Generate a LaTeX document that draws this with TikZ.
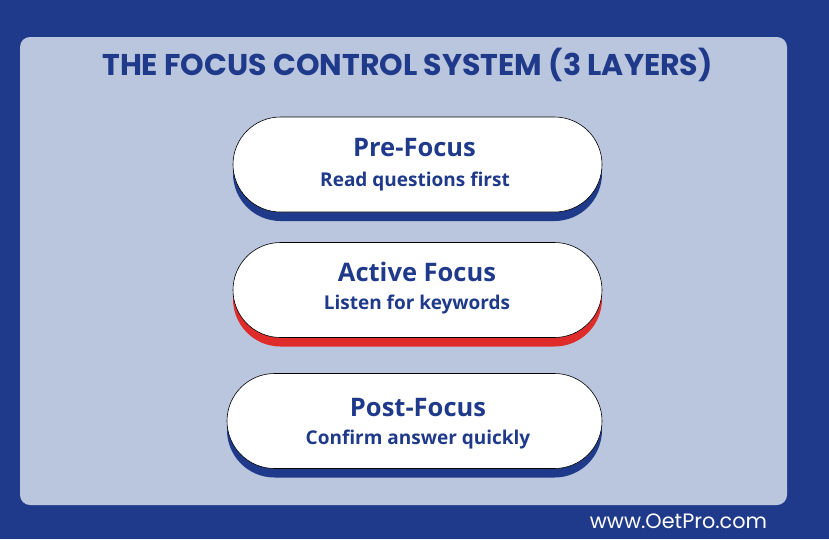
\documentclass[tikz,border=0pt]{standalone}
\usepackage{fontspec}
\setmainfont{Open Sans}
\newfontfamily\titlefont{Poppins}
\usetikzlibrary{shapes.misc,shadows}
\definecolor{navy}{RGB}{31,58,138}
\definecolor{panel}{RGB}{186,198,221}
\definecolor{redshadow}{RGB}{224,43,43}
\begin{document}
\begin{tikzpicture}[x=1pt,y=-1pt,
  pill/.style={rounded rectangle, draw=black, line width=0.6pt, fill=white,
    minimum height=95pt, inner sep=0pt, align=center, text=navy},
  blueshadow/.style={drop shadow={shadow xshift=0pt, shadow yshift=-9pt, fill=navy, opacity=1}},
  redsh/.style={drop shadow={shadow xshift=0pt, shadow yshift=-9pt, fill=redshadow, opacity=1}},
  head/.style={font=\fontsize{25.5}{28}\selectfont\bfseries},
  sub/.style={font=\fontsize{19}{22}\selectfont\bfseries}]
\useasboundingbox (0,0) rectangle (829,539);
\fill[navy] (0,0) rectangle (829,539);
\fill[panel, rounded corners=10pt] (20,37) rectangle (787,505);
\node[font=\titlefont\fontsize{30}{33}\selectfont\bfseries, text=navy] (title) at (407.5,65) {THE FOCUS CONTROL SYSTEM (3 LAYERS)};
\node[pill, blueshadow, minimum width=369pt] (pre) at (417.5,164.5) {};
\node[head, text=navy] (preh) at (414.5,147.5) {Pre-Focus};
\node[sub, text=navy] (pres) at (415,182) {Read questions first};
\node[pill, redsh, minimum width=369pt] (act) at (417.5,290) {};
\node[head, text=navy] (acth) at (417,272) {Active Focus};
\node[sub, text=navy] (acts) at (417,305) {Listen for keywords};
\node[pill, blueshadow, minimum width=375pt] (post) at (414.5,421) {};
\node[head, text=navy] (posth) at (418,408) {Post-Focus};
\node[sub, text=navy] (posts) at (418,440) {Confirm answer quickly};
\node[font=\titlefont\fontsize{20.8}{24}\selectfont, text=white] (url) at (678.5,521) {www.OetPro.com};
\end{tikzpicture}
\end{document}
